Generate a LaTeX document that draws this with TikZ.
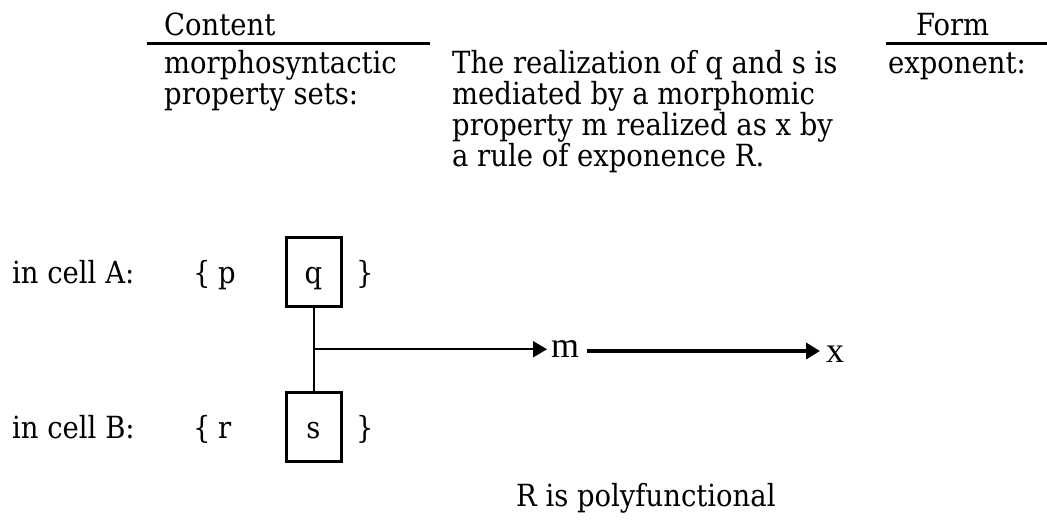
\documentclass[tikz,border=0pt]{standalone}
\usepackage{fontspec}
\setmainfont{DejaVu Serif Condensed}
\newfontfamily\timesf{Liberation Serif}
\usetikzlibrary{arrows.meta}
\begin{document}
\begin{tikzpicture}[x=1pt,y=-1pt,
  txt/.style={anchor=base west,inner sep=0pt,font=\fontsize{30.5}{32}\selectfont},
  rulel/.style={line width=3pt},
  cellbox/.style={draw,line width=3pt,minimum width=55pt,minimum height=69pt,inner sep=0pt,
    text height=30pt,text depth=7pt,font=\fontsize{30.5}{32}\selectfont},
  conn/.style={line width=2pt},
  arr/.style={line width=2pt,-{Triangle[length=14pt,width=16pt]}},
  arrb/.style={line width=4pt,-{Triangle[length=14pt,width=16pt]}},
  tm/.style={inner sep=0pt,font=\fontsize{36}{38}\timesf}]
\useasboundingbox (0,0) rectangle (1047,525);
% headings
\node[txt] (content) at (164,35) {Content};
\draw[rulel] (147,43) -- (430,43);
\node[txt] (form) at (916,35) {Form};
\draw[rulel] (886,43) -- (1047,43);
% column texts
\node[txt] (ms1) at (164,73) {morphosyntactic};
\node[txt] (ms2) at (164,104) {property sets:};
\node[txt] (d1) at (452,73) {The realization of q and s is};
\node[txt] (d2) at (452,104) {mediated by a morphomic};
\node[txt] (d3) at (452,135) {property m realized as x by};
\node[txt] (d4) at (452,166) {a rule of exponence R.};
\node[txt] (exp) at (888,73) {exponent:};
% cells
\node[txt] (ca) at (12,283) {in cell A:};
\node[txt] (lba) at (193,283) {\{};
\node[txt] (p) at (218,283) {p};
\node[txt] (rba) at (356,283) {\}};
\node[cellbox] (q) at (313.5,271.5) {q};
\node[txt] (cb) at (12,438) {in cell B:};
\node[txt] (lbb) at (193,438) {\{};
\node[txt] (r) at (218,438) {r};
\node[txt] (rbb) at (356,438) {\}};
\node[cellbox] (s) at (313.5,427) {s};
% connectors
\draw[conn] (q.south) -- (s.north) coordinate[pos=0.5] (j);
\node[tm,anchor=base west] (m) at (551,357) {m};
\node[tm,anchor=base west] (x) at (826,362) {x};
\draw[arr,shorten >=4pt] (j) -- (j -| m.west);
\coordinate (xs) at (587,351);
\draw[arrb] (xs) -- (xs -| 820,0);
\node[txt] (poly) at (516,506) {R is polyfunctional};
\end{tikzpicture}
\end{document}
